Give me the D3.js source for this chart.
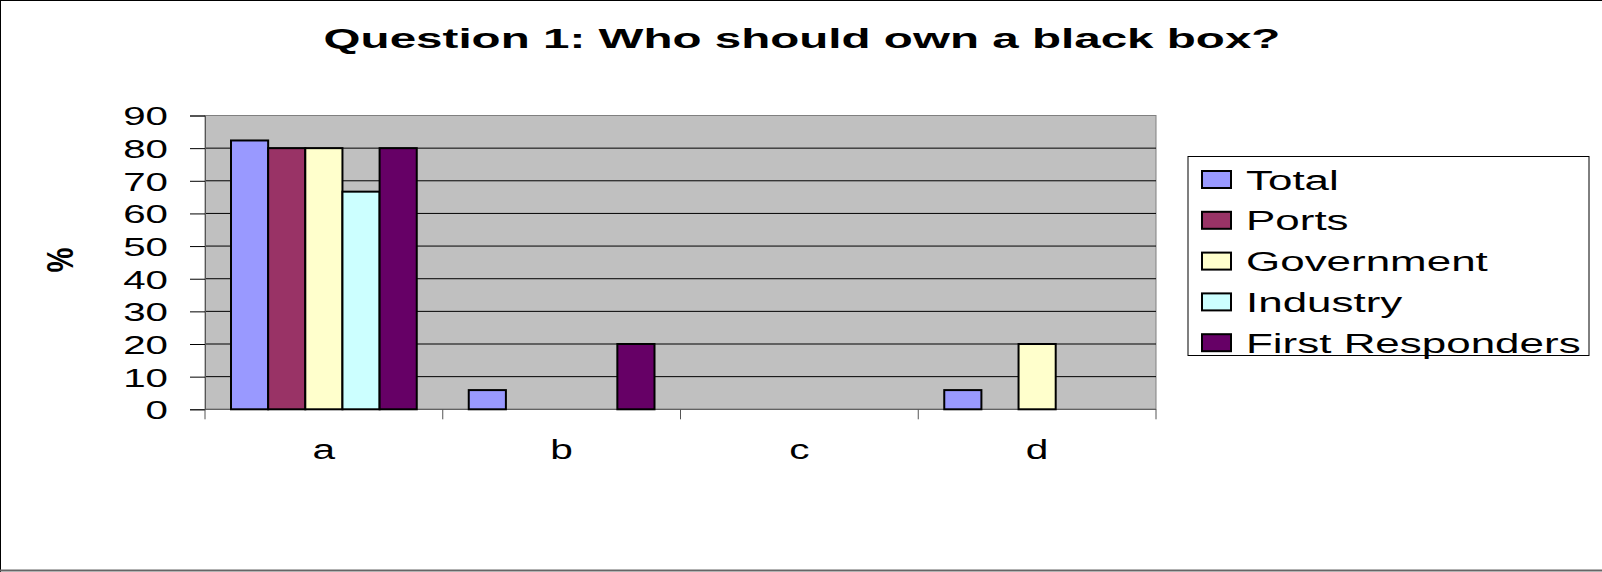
<!DOCTYPE html>
<html>
<head>
	<title>Question 1</title>
	<script src="https://cdn.jsdelivr.net/npm/d3@7"></script>
	<style>
		body { margin: 0; background: #fff; }
		text { font-family: "Liberation Sans", Arial, sans-serif; fill: #000; }
	</style>
</head>
<body>
<div id="vis"></div>
<script type="text/javascript">
// chart data
var categories = ['a', 'b', 'c', 'd'];
var seriesNames = ['Total', 'Ports', 'Government', 'Industry', 'First Responders'];
var total = [82.35, 5.88, 0, 5.88];
var ports = [80, 0, 0, 0];
var government = [80, 0, 0, 20];
var industry = [66.67, 0, 0, 0];
var firstResponders = [80, 20, 0, 0];
var yTicks = [0, 10, 20, 30, 40, 50, 60, 70, 80, 90];
var seriesColors = ['#9999ff', '#993366', '#ffffcc', '#ccffff', '#660066'];
var seriesValues = [total, ports, government, industry, firstResponders];

const W = 1602, H = 572;
// the source picture is stretched sideways, so the text is too
const STRETCH = 1.55;

var svg = d3.select('#vis').append('svg').attr('width', W).attr('height', H);
svg.append('rect').attr('width', W).attr('height', H).attr('fill', '#fff');
// frame lines
svg.append('line').attr('x1', 0).attr('x2', W).attr('y1', 0.5).attr('y2', 0.5).attr('stroke', '#000');
svg.append('line').attr('x1', 0.5).attr('x2', 0.5).attr('y1', 0).attr('y2', H).attr('stroke', '#000');
svg.append('line').attr('x1', 0).attr('x2', W).attr('y1', H - 1.5).attr('y2', H - 1.5).attr('stroke', '#666').attr('stroke-width', 2);

var plot = {left: 205, right: 1156, top: 115.5, bottom: 409.3};

var x = d3.scaleBand().domain(categories).range([plot.left, plot.right]).paddingInner(0).paddingOuter(0);
var x1 = d3.scaleBand().domain(seriesNames).range([26, x.bandwidth() - 26]).padding(0);
var y = d3.scaleLinear().domain([0, 90]).range([plot.bottom, plot.top]);

function putText(sel, tx, ty, k) {
	return sel.attr('x', 0).attr('y', 0)
		.attr('transform', 'translate(' + tx + ',' + ty + ') scale(' + k + ',1)');
}

// title
putText(svg.append('text').text('Question 1: Who should own a black box?')
	.attr('text-anchor', 'middle').attr('font-weight', 'bold').attr('font-size', 28), 802, 48, 1.7);

// plot area
svg.append('rect')
	.attr('x', plot.left).attr('y', plot.top)
	.attr('width', plot.right - plot.left).attr('height', plot.bottom - plot.top)
	.attr('fill', '#c0c0c0').attr('stroke', '#808080');

svg.append('g').selectAll('line').data(yTicks.filter(function(d){ return d > 0 && d < 90; }))
	.enter().append('line')
	.attr('x1', plot.left).attr('x2', plot.right)
	.attr('y1', function(d){ return y(d); }).attr('y2', function(d){ return y(d); })
	.attr('stroke', '#000');

// y axis
var yAxis = svg.append('g').attr('transform', 'translate(' + plot.left + ',0)')
	.call(d3.axisLeft(y).tickValues(yTicks).tickSize(15));
yAxis.select('.domain').attr('stroke', '#555');
yAxis.selectAll('.tick line').attr('stroke', '#000');
yAxis.selectAll('.tick text')
	.attr('font-size', 26).attr('fill', '#000').attr('text-anchor', 'end').attr('dy', '0.36em')
	.attr('x', 0).attr('transform', 'translate(-37,0) scale(' + STRETCH + ',1)');

// x axis, ticks sit on the band edges
var xEdges = categories.map(function(c){ return x(c); }).concat([plot.right]);
svg.append('line').attr('x1', plot.left).attr('x2', plot.right)
	.attr('y1', plot.bottom).attr('y2', plot.bottom).attr('stroke', '#555');
svg.append('g').selectAll('line').data(xEdges).enter().append('line')
	.attr('x1', function(d){ return d; }).attr('x2', function(d){ return d; })
	.attr('y1', plot.bottom).attr('y2', plot.bottom + 10).attr('stroke', '#555');
svg.append('g').selectAll('text').data(categories).enter().append('text')
	.text(function(d){ return d; })
	.attr('text-anchor', 'middle').attr('font-size', 28)
	.each(function(d){ putText(d3.select(this), x(d) + x.bandwidth() / 2, 459, 1.45); });

// y title, turned on its side and widened like the rest
svg.append('text').text('%')
	.attr('text-anchor', 'middle').attr('font-weight', 'bold').attr('font-size', 28)
	.attr('transform', 'translate(73,260) scale(1.35,1) rotate(-90)');

// bars
var barData = [];
categories.forEach(function(c, ci){
	seriesNames.forEach(function(s, si){
		if (seriesValues[si][ci] > 0) {
			barData.push({cat: c, name: s, value: seriesValues[si][ci], color: seriesColors[si]});
		}
	});
});
svg.append('g').selectAll('rect').data(barData).enter().append('rect')
	.attr('x', function(d){ return x(d.cat) + x1(d.name); })
	.attr('y', function(d){ return y(d.value); })
	.attr('width', x1.bandwidth())
	.attr('height', function(d){ return y(0) - y(d.value); })
	.attr('fill', function(d){ return d.color; })
	.attr('stroke', '#000').attr('stroke-width', 2);

// legend
var legend = {left: 1188, top: 156.5, width: 401, height: 199, rowStep: 40.8};
svg.append('rect')
	.attr('x', legend.left).attr('y', legend.top).attr('width', legend.width).attr('height', legend.height)
	.attr('fill', '#fff').attr('stroke', '#000');
var rows = svg.append('g').selectAll('g').data(seriesNames).enter().append('g')
	.attr('transform', function(d, i){ return 'translate(' + legend.left + ',' + (legend.top + 23 + i * legend.rowStep) + ')'; });
rows.append('rect').attr('x', 14).attr('y', -8.5).attr('width', 29).attr('height', 17)
	.attr('fill', function(d, i){ return seriesColors[i]; })
	.attr('stroke', '#000').attr('stroke-width', 2);
rows.append('text').text(function(d){ return d; })
	.attr('font-size', 28).attr('dy', '0.36em')
	.attr('x', 0).attr('transform', 'translate(58,0) scale(1.57,1)');
</script>
</body>
</html>
